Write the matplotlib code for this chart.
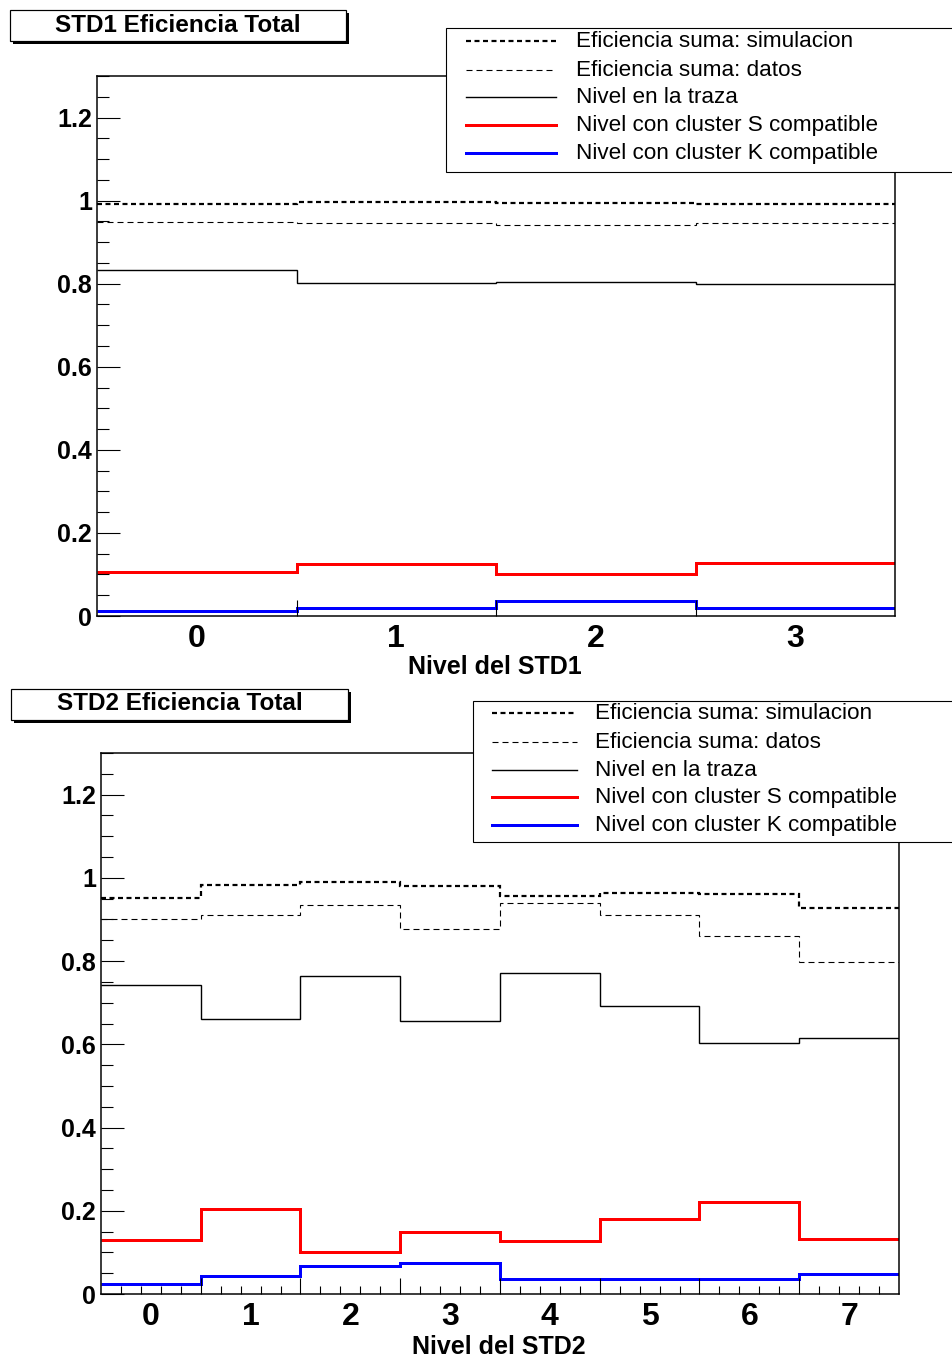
import numpy as np
import matplotlib
matplotlib.use("Agg")
import matplotlib.pyplot as plt
from matplotlib.patches import Rectangle
from matplotlib.lines import Line2D
from matplotlib.ticker import MultipleLocator, FixedLocator, NullFormatter
import matplotlib.transforms as mtransforms

plt.rcParams['font.family'] = ['Liberation Sans', 'DejaVu Sans']
plt.rcParams['lines.scale_dashes'] = False

# ---------------- data ----------------
std1_levels = [0, 1, 2, 3]
std1_sim = [0.992, 0.996, 0.994, 0.991]
std1_data = [0.949, 0.945, 0.942, 0.946]
std1_traza = [0.832, 0.801, 0.805, 0.800]
std1_clusterS = [0.107, 0.124, 0.101, 0.127]
std1_clusterK = [0.012, 0.020, 0.036, 0.019]

std2_levels = [0, 1, 2, 3, 4, 5, 6, 7]
std2_sim = [0.952, 0.984, 0.990, 0.980, 0.956, 0.964, 0.962, 0.927]
std2_data = [0.900, 0.910, 0.935, 0.876, 0.940, 0.910, 0.861, 0.797]
std2_traza = [0.743, 0.661, 0.763, 0.655, 0.771, 0.693, 0.604, 0.614]
std2_clusterS = [0.130, 0.205, 0.101, 0.148, 0.128, 0.180, 0.221, 0.133]
std2_clusterK = [0.024, 0.043, 0.067, 0.074, 0.036, 0.035, 0.035, 0.049]

legend_labels = ["Eficiencia suma: simulacion", "Eficiencia suma: datos",
                 "Nivel en la traza", "Nivel con cluster S compatible",
                 "Nivel con cluster K compatible"]
titles = ["STD1 Eficiencia Total", "STD2 Eficiencia Total"]
xlabels = ["Nivel del STD1", "Nivel del STD2"]
ytick_values = [0, 0.2, 0.4, 0.6, 0.8, 1.0, 1.2]
ytick_labels = ["0", "0.2", "0.4", "0.6", "0.8", "1", "1.2"]

# ---------------- styles ----------------
PX = 72.0 / 100.0  # points per pixel
styles = [
    dict(color="black", lw=2.2 * PX, ls=(0, (5 * PX, 3.5 * PX))),
    dict(color="black", lw=1.1 * PX, ls=(0, (6 * PX, 4 * PX))),
    dict(color="black", lw=1.4 * PX, ls="-"),
    dict(color="#ff0000", lw=3.0 * PX, ls="-"),
    dict(color="#0000ff", lw=3.0 * PX, ls="-"),
]

W, H = 953, 1359
fig = plt.figure(figsize=(W / 100, H / 100), dpi=100)


def add_ax(left, top, right, bottom):
    return fig.add_axes([left / W, 1 - bottom / H, (right - left) / W, (bottom - top) / H])


panels = [
    dict(ax=add_ax(97, 76, 895, 616), levels=std1_levels,
         series=[std1_sim, std1_data, std1_traza, std1_clusterS, std1_clusterK],
         minor=False),
    dict(ax=add_ax(101, 753, 899, 1294), levels=std2_levels,
         series=[std2_sim, std2_data, std2_traza, std2_clusterS, std2_clusterK],
         minor=True),
]

for p in panels:
    ax = p["ax"]
    lv = np.array(p["levels"], dtype=float)
    edges = np.append(lv - 0.5, lv[-1] + 0.5)
    for vals, st in zip(p["series"], styles):
        ax.stairs(vals, edges, baseline=None, color=st["color"],
                  linewidth=st["lw"], linestyle=st["ls"])
    ax.set_xlim(edges[0], edges[-1])
    ax.set_ylim(0, 1.3)
    for s in ax.spines.values():
        s.set_linewidth(1.5 * PX)
    # y axis
    ax.yaxis.set_major_locator(FixedLocator(ytick_values))
    ax.set_yticklabels(ytick_labels, fontsize=18, fontweight="bold")
    ax.yaxis.set_minor_locator(MultipleLocator(0.05))
    ax.tick_params(axis="y", which="major", direction="in", length=23 * PX,
                   width=1.1 * PX, pad=3.5, right=False)
    ax.tick_params(axis="y", which="minor", direction="in", length=12 * PX,
                   width=1.1 * PX, right=False)
    # x axis: major ticks at bin edges, labels at bin centres
    ax.xaxis.set_major_locator(FixedLocator(list(edges[1:-1])))
    ax.xaxis.set_major_formatter(NullFormatter())
    ax.tick_params(axis="x", which="major", direction="in", length=16 * PX,
                   width=1.1 * PX, top=False)
    if p["minor"]:
        ax.xaxis.set_minor_formatter(NullFormatter())
        ax.xaxis.set_minor_locator(FixedLocator(
            [e + k * 0.2 for e in edges[:-1] for k in range(1, 5)]))
        ax.tick_params(axis="x", which="minor", direction="in", length=8 * PX,
                       width=1.1 * PX, top=False)
    else:
        ax.tick_params(axis="x", which="minor", length=0)
    trans = mtransforms.blended_transform_factory(ax.transData, ax.transAxes)
    for v in p["levels"]:
        ax.text(v, -0.015, str(v), transform=trans, ha="center", va="top",
                fontsize=23, fontweight="bold")

# ---------------- overlay (titles, legends, axis titles) ----------------
ov = fig.add_axes([0, 0, 1, 1], zorder=10)
ov.set_xlim(0, W)
ov.set_ylim(H, 0)
ov.axis("off")
ov.patch.set_alpha(0)


def title_box(x0, y0, x1, y1, text):
    ov.add_patch(Rectangle((x0 + 3, y0 + 3), x1 - x0, y1 - y0, facecolor="black",
                           edgecolor="black", lw=0))
    ov.add_patch(Rectangle((x0, y0), x1 - x0, y1 - y0, facecolor="white",
                           edgecolor="black", lw=1.2 * PX))
    ov.text((x0 + x1) / 2, (y0 + y1) / 2 - 0.5, text, ha="center", va="center",
            fontsize=17.5, fontweight="bold")


def legend_box(x0, y0, y1, lx0, lx1, tx, rows):
    ov.add_patch(Rectangle((x0, y0), W + 20 - x0, y1 - y0, facecolor="white",
                           edgecolor="black", lw=1.1 * PX, clip_on=False))
    for y, lab, st in zip(rows, legend_labels, styles):
        ov.add_line(Line2D([lx0, lx1], [y, y], color=st["color"], linewidth=st["lw"],
                           linestyle=st["ls"]))
        ov.text(tx, y + 0.5, lab, ha="left", va="center", fontsize=16.2)


title_box(10, 10, 346, 41, titles[0])
title_box(11, 689, 348, 720, titles[1])
legend_box(446, 28, 172, 466, 556, 576, [41, 70, 97, 125, 153])
legend_box(473, 701, 842, 492, 577, 595, [713, 742, 770, 797, 825])
ov.text(495, 667.5, xlabels[0], ha="center", va="center", fontsize=18, fontweight="bold")
ov.text(499, 1346.5, xlabels[1], ha="center", va="center", fontsize=18, fontweight="bold")

fig.savefig("out.png", dpi=100)
